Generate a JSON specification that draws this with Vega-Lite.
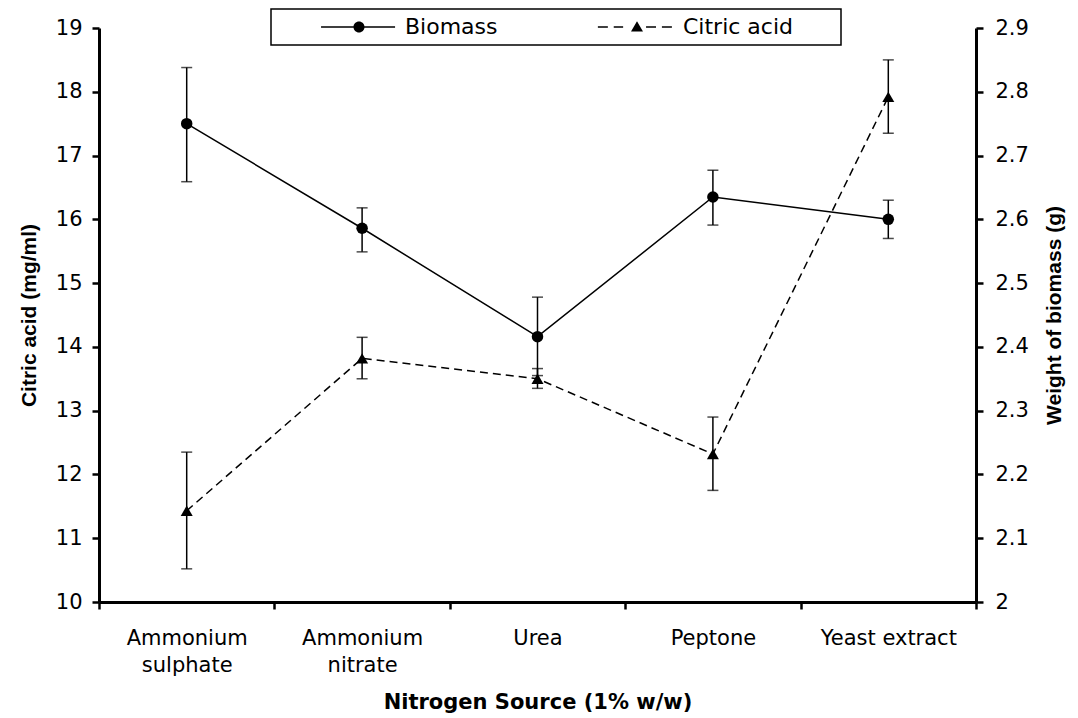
{
  "$schema": "https://vega.github.io/schema/vega-lite/v6.json",
  "width": 877,
  "height": 574,
  "autosize": {"type": "none"},
  "padding": {"left": 99, "top": 28, "right": 102, "bottom": 116},
  "background": "white",
  "config": {
    "view": {"stroke": null},
    "font": "DejaVu Sans",
    "axis": {"grid": false, "domainColor": "black", "tickColor": "black", "labelColor": "black", "titleColor": "black", "labelFont": "DejaVu Sans"},
    "axisLeft": {"tickSize": 7, "tickWidth": 2.5, "domainWidth": 3, "labelFontSize": 21, "labelPadding": 10,
      "titleFont": "Liberation Sans", "titleFontSize": 21, "titleFontWeight": "bold", "titlePadding": 16,
      "titleAngle": 270, "titleBaseline": "bottom"},
    "axisRight": {"tickSize": 7, "tickWidth": 2.5, "domainWidth": 3, "labelFontSize": 21, "labelPadding": 12,
      "titleFont": "Liberation Sans", "titleFontSize": 21, "titleFontWeight": "bold", "titlePadding": 15,
      "titleAngle": 270, "titleBaseline": "top"},
    "legend": {"strokeWidth": 1.5}
  },
  "datasets": {
    "src": [
      {"source": "Ammonium sulphate", "cit": 11.43, "cit_lo": 10.52, "cit_hi": 12.35, "bio": 2.75, "bio_lo": 2.659, "bio_hi": 2.838},
      {"source": "Ammonium nitrate", "cit": 13.82, "cit_lo": 13.5, "cit_hi": 14.15, "bio": 2.586, "bio_lo": 2.549, "bio_hi": 2.618},
      {"source": "Urea", "cit": 13.5, "cit_lo": 13.35, "cit_hi": 13.66, "bio": 2.416, "bio_lo": 2.355, "bio_hi": 2.478},
      {"source": "Peptone", "cit": 12.32, "cit_lo": 11.75, "cit_hi": 12.9, "bio": 2.635, "bio_lo": 2.591, "bio_hi": 2.677},
      {"source": "Yeast extract", "cit": 17.92, "cit_lo": 17.35, "cit_hi": 18.5, "bio": 2.6, "bio_lo": 2.57, "bio_hi": 2.63}
    ],
    "series": [{"series": "Biomass"}, {"series": "Citric acid"}]
  },
  "layer": [
    {
      "data": {"name": "src"},
      "encoding": {
        "x": {
          "field": "source", "type": "nominal", "sort": null,
          "scale": {"type": "band", "paddingInner": 0, "paddingOuter": 0},
          "axis": {
            "orient": "bottom", "title": "Nitrogen Source (1% w/w)", "tickBand": "extent", "labelAngle": 0,
            "labelExpr": "datum.label == 'Yeast extract' ? datum.label : split(datum.label, ' ')",
            "labelFontSize": 21, "labelLineHeight": 27, "labelPadding": 18, "labelBaseline": "top",
            "tickSize": 7, "tickWidth": 2.5, "domainWidth": 3,
            "titleFont": "DejaVu Sans", "titleFontWeight": "bold", "titleFontSize": 21, "titlePadding": 16
          }
        }
      },
      "layer": [
        {
          "mark": {"type": "rule", "color": "black", "strokeWidth": 1.5},
          "encoding": {
            "y": {"field": "cit_lo", "type": "quantitative", "scale": {"domain": [10, 19], "nice": false, "zero": false},
              "axis": {"orient": "left", "title": "Citric acid (mg/ml)", "values": [10, 11, 12, 13, 14, 15, 16, 17, 18, 19]}},
            "y2": {"field": "cit_hi"}
          }
        },
        {
          "mark": {"type": "tick", "color": "black", "thickness": 1.5, "size": 11},
          "encoding": {"y": {"field": "cit_lo", "type": "quantitative", "scale": {"domain": [10, 19], "nice": false, "zero": false},
            "axis": {"orient": "left", "title": "Citric acid (mg/ml)", "values": [10, 11, 12, 13, 14, 15, 16, 17, 18, 19]}}}
        },
        {
          "mark": {"type": "tick", "color": "black", "thickness": 1.5, "size": 11},
          "encoding": {"y": {"field": "cit_hi", "type": "quantitative", "scale": {"domain": [10, 19], "nice": false, "zero": false},
            "axis": {"orient": "left", "title": "Citric acid (mg/ml)", "values": [10, 11, 12, 13, 14, 15, 16, 17, 18, 19]}}}
        },
        {
          "mark": {"type": "line", "color": "black", "strokeWidth": 1.5, "strokeDash": [8, 5]},
          "encoding": {"y": {"field": "cit", "type": "quantitative", "scale": {"domain": [10, 19], "nice": false, "zero": false},
            "axis": {"orient": "left", "title": "Citric acid (mg/ml)", "values": [10, 11, 12, 13, 14, 15, 16, 17, 18, 19]}}}
        },
        {
          "mark": {"type": "point", "shape": "triangle-up", "filled": true, "color": "black", "size": 144, "opacity": 1},
          "encoding": {"y": {"field": "cit", "type": "quantitative", "scale": {"domain": [10, 19], "nice": false, "zero": false},
            "axis": {"orient": "left", "title": "Citric acid (mg/ml)", "values": [10, 11, 12, 13, 14, 15, 16, 17, 18, 19]}}}
        }
      ]
    },
    {
      "data": {"name": "src"},
      "encoding": {
        "x": {
          "field": "source", "type": "nominal", "sort": null,
          "scale": {"type": "band", "paddingInner": 0, "paddingOuter": 0},
          "axis": {
            "orient": "bottom", "title": "Nitrogen Source (1% w/w)", "tickBand": "extent", "labelAngle": 0,
            "labelExpr": "datum.label == 'Yeast extract' ? datum.label : split(datum.label, ' ')",
            "labelFontSize": 21, "labelLineHeight": 27, "labelPadding": 18, "labelBaseline": "top",
            "tickSize": 7, "tickWidth": 2.5, "domainWidth": 3,
            "titleFont": "DejaVu Sans", "titleFontWeight": "bold", "titleFontSize": 21, "titlePadding": 16
          }
        }
      },
      "layer": [
        {
          "mark": {"type": "rule", "color": "black", "strokeWidth": 1.5},
          "encoding": {
            "y": {"field": "bio_lo", "type": "quantitative", "scale": {"domain": [2, 2.9], "nice": false, "zero": false},
              "axis": {"orient": "right", "title": "Weight of biomass (g)", "values": [2, 2.1, 2.2, 2.3, 2.4, 2.5, 2.6, 2.7, 2.8, 2.9], "format": ".1~f"}},
            "y2": {"field": "bio_hi"}
          }
        },
        {
          "mark": {"type": "tick", "color": "black", "thickness": 1.5, "size": 11},
          "encoding": {"y": {"field": "bio_lo", "type": "quantitative", "scale": {"domain": [2, 2.9], "nice": false, "zero": false},
            "axis": {"orient": "right", "title": "Weight of biomass (g)", "values": [2, 2.1, 2.2, 2.3, 2.4, 2.5, 2.6, 2.7, 2.8, 2.9], "format": ".1~f"}}}
        },
        {
          "mark": {"type": "tick", "color": "black", "thickness": 1.5, "size": 11},
          "encoding": {"y": {"field": "bio_hi", "type": "quantitative", "scale": {"domain": [2, 2.9], "nice": false, "zero": false},
            "axis": {"orient": "right", "title": "Weight of biomass (g)", "values": [2, 2.1, 2.2, 2.3, 2.4, 2.5, 2.6, 2.7, 2.8, 2.9], "format": ".1~f"}}}
        },
        {
          "mark": {"type": "line", "color": "black", "strokeWidth": 1.5},
          "encoding": {"y": {"field": "bio", "type": "quantitative", "scale": {"domain": [2, 2.9], "nice": false, "zero": false},
            "axis": {"orient": "right", "title": "Weight of biomass (g)", "values": [2, 2.1, 2.2, 2.3, 2.4, 2.5, 2.6, 2.7, 2.8, 2.9], "format": ".1~f"}}}
        },
        {
          "mark": {"type": "point", "shape": "circle", "filled": true, "color": "black", "size": 132, "opacity": 1},
          "encoding": {"y": {"field": "bio", "type": "quantitative", "scale": {"domain": [2, 2.9], "nice": false, "zero": false},
            "axis": {"orient": "right", "title": "Weight of biomass (g)", "values": [2, 2.1, 2.2, 2.3, 2.4, 2.5, 2.6, 2.7, 2.8, 2.9], "format": ".1~f"}}}
        }
      ]
    },
    {
      "data": {"name": "series"},
      "mark": {"type": "point", "filled": true, "fill": "black", "stroke": "black", "strokeWidth": 1.5, "opacity": 0},
      "encoding": {
        "shape": {
          "field": "series", "type": "nominal",
          "scale": {
            "domain": ["Biomass", "Citric acid"],
            "range": [
              "M-0.28,-0.013H0.98V0.013H-0.28Z M0.272,0A0.094,0.094 0 1,1 0.46,0A0.094,0.094 0 1,1 0.272,0Z",
              "M-0.3,-0.013H-0.13V0.013H-0.3Z M-0.03,-0.013H0.13V0.013H-0.03Z M0.52,-0.013H0.69V0.013H0.52Z M0.79,-0.013H0.96V0.013H0.79Z M0.264,0.075L0.366,-0.1L0.468,0.075Z"
            ]
          },
          "legend": {
            "orient": "none", "legendX": 172, "legendY": -19, "direction": "horizontal",
            "title": " ", "titleOrient": "right", "titlePadding": 41, "titleFontSize": 11,
            "padding": 7, "strokeColor": "black",
            "symbolSize": 13806, "symbolStrokeWidth": 1.5, "symbolOpacity": 1,
            "symbolFillColor": "black", "symbolStrokeColor": "black",
            "labelOffset": 8, "columnPadding": 58, "clipHeight": 22,
            "labelFontSize": 22, "labelFont": "DejaVu Sans", "labelColor": "black", "labelLimit": 300,
            "encode": {"symbols": {"fill": {"value": "black"}, "opacity": {"value": 1}}}
          }
        }
      }
    }
  ],
  "resolve": {"scale": {"y": "independent"}}
}
